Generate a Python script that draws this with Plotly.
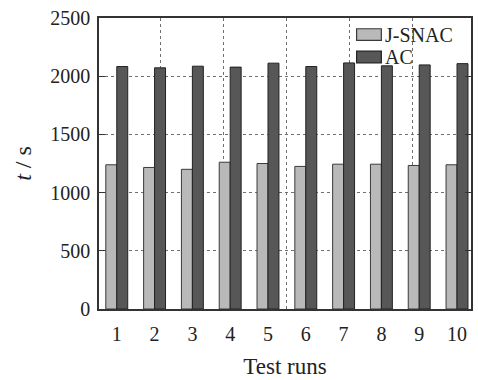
import plotly.graph_objects as go

# Run times for each test run (seconds)
runs = [1, 2, 3, 4, 5, 6, 7, 8, 9, 10]
run_labels = ["1", "2", "3", "4", "5", "6", "7", "8", "9", "10"]
jsnac_t = [1239, 1216, 1200, 1261, 1250, 1225, 1244, 1244, 1233, 1239]
ac_t = [2083, 2072, 2086, 2078, 2112, 2083, 2114, 2089, 2097, 2108]
y_ticks = [0, 500, 1000, 1500, 2000, 2500]
series_names = ["J-SNAC", "AC"]

FONT = "Liberation Serif, Times New Roman, serif"
FRAME = "#333333"
GRID = "#707070"
FILLS = ["#b9b9b9", "#575757"]
EDGES = ["#3a3a3a", "#222222"]

fig = go.Figure()
for name, vals, fill, edge in zip(series_names, [jsnac_t, ac_t], FILLS, EDGES):
    fig.add_trace(go.Bar(
        x=runs, y=vals, name=name, showlegend=False,
        marker=dict(color=fill, line=dict(color=edge, width=1)),
    ))

# invisible trace that carries the secondary x axis used for vertical grid lines
fig.add_trace(go.Scatter(x=[1], y=[0], xaxis="x2", mode="markers",
                         marker=dict(opacity=0), showlegend=False,
                         hoverinfo="skip"))

# white patch behind the key: hides grid lines but stays under the bars
fig.add_shape(type="rect", xref="paper", yref="paper",
              x0=0.682, x1=0.97, y0=0.836, y1=0.976,
              fillcolor="white", line=dict(width=0), layer="between")

# compact key with wide swatches
key_rows = [(0.923, 0.963, 0.943), (0.846, 0.886, 0.866)]
for (y0, y1, ty), name, fill, edge in zip(key_rows, series_names, FILLS, EDGES):
    fig.add_shape(type="rect", xref="paper", yref="paper",
                  x0=0.6925, x1=0.759, y0=y0, y1=y1,
                  fillcolor=fill, line=dict(color=edge, width=1.2),
                  layer="above")
    fig.add_annotation(xref="paper", yref="paper", x=0.766, y=ty,
                       xanchor="left", yanchor="middle", showarrow=False,
                       borderpad=0,
                       text=name, font=dict(family=FONT, size=20,
                                            color="#222222"))

fig.update_layout(
    width=478, height=380,
    margin=dict(l=99, r=5, t=18, b=64),
    paper_bgcolor="white", plot_bgcolor="white",
    barmode="group", bargap=0.42, bargroupgap=0,
    font=dict(family=FONT, size=20, color="#222222"),
    showlegend=False,
    xaxis=dict(
        range=[0.53, 10.37], tickmode="array", tickvals=runs,
        ticktext=run_labels, ticks="", showgrid=False,
        ticklabelstandoff=6,
        showline=True, linecolor=FRAME, linewidth=1.5, mirror=True,
        zeroline=False,
        title=dict(text="Test runs", font=dict(family=FONT, size=23),
                   standoff=14),
        tickfont=dict(family=FONT, size=20),
    ),
    xaxis2=dict(
        overlaying="x", side="top", range=[0.03, 5.92], dtick=1,
        showticklabels=False, ticks="", showgrid=True,
        gridcolor=GRID, griddash="dot", gridwidth=1.3,
        zeroline=False, showline=False,
    ),
    yaxis=dict(
        range=[0, 2500], tickmode="array", tickvals=y_ticks,
        ticks="inside", ticklen=6, tickcolor=FRAME, tickwidth=1.3,
        ticklabelstandoff=3,
        showgrid=True, gridcolor=GRID, griddash="dot", gridwidth=1.3,
        showline=True, linecolor=FRAME, linewidth=1.5, mirror="ticks",
        zeroline=False,
        title=dict(text="<i>t</i> / s", font=dict(family=FONT, size=24),
                   standoff=12),
        tickfont=dict(family=FONT, size=20),
    ),
)

fig.write_html("out.html")
